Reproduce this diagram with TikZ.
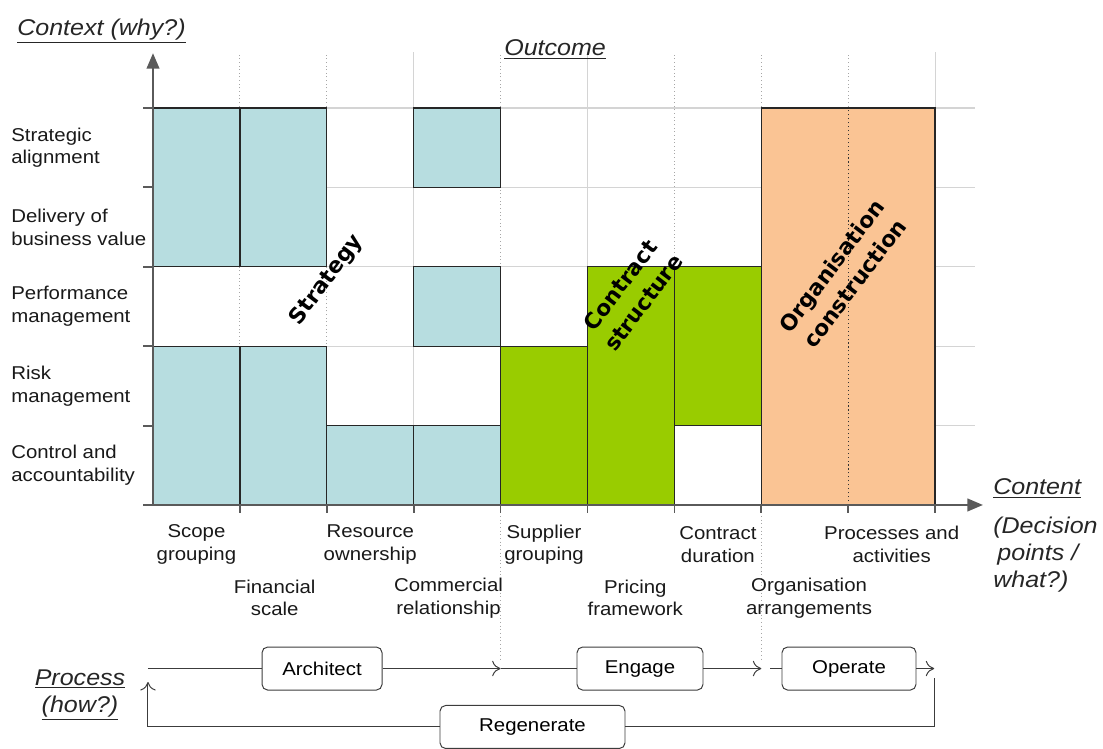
\documentclass[tikz,border=0pt]{standalone}
\usepackage{fontspec}
\setmainfont{Liberation Sans}[FakeStretch=1.1]
\newfontfamily\stagefont{DejaVu Sans}
\usepackage{xcolor}
\usepackage{tikz}
\usetikzlibrary{arrows.meta}

\definecolor{boxblue}{RGB}{183,221,224}
\definecolor{boxgreen}{RGB}{153,204,0}
\definecolor{boxorange}{RGB}{250,196,148}
\definecolor{axisgray}{RGB}{90,90,90}
\definecolor{gridgray}{RGB}{212,212,212}
\definecolor{linegray}{RGB}{60,60,60}

\tikzset{
  lab/.style={font=\fontsize{13.2}{16.3}\selectfont, align=center, inner sep=0pt, text=black!90},
  ylab/.style={lab, align=left, anchor=west},
  head/.style={font=\fontsize{16.2}{19.2}\selectfont\itshape, inner sep=0pt, text=black!85},
  stage/.style={font=\stagefont\bfseries\fontsize{15.5}{20.5}\selectfont, align=center, rotate=53, inner sep=0pt},
  cell/.style={draw=black!85, line width=0.9pt},
  procbox/.style={draw=linegray, fill=white, rectangle, rounded corners=4pt, line width=0.7pt,
    minimum height=1.075cm, font=\fontsize{13.2}{16.3}\selectfont},
  proc/.style={linegray, line width=0.7pt, >={To[length=6pt,width=11pt]}},
  axis/.style={axisgray, line width=1.4pt, >={Triangle[length=11pt,width=9pt]}}
}

\begin{document}
\begin{tikzpicture}[x=2.1725cm, y=1.985cm]
\useasboundingbox (-1.7607,-3.073) rectangle (10.932,6.360);

% grid
\foreach \r in {1,...,5}
  \draw[gridgray, line width=0.8pt] (0,\r) -- (9.46,\r);
\foreach \c in {1,2,4,6,7,8}
  \draw[gray!70, dotted, line width=0.6pt] (\c,0) -- (\c,5.7);
\foreach \c in {3,5,9}
  \draw[gridgray, line width=0.6pt] (\c,0) -- (\c,5.7);
\draw[gray!70, dotted, line width=0.6pt] (4,0) -- (4,-1.95);
\draw[gray!70, dotted, line width=0.6pt] (7,0) -- (7,-1.95);

% cells
\foreach \a/\b/\c/\d in {0/3/1/5, 1/3/2/5, 3/4/4/5, 3/2/4/3, 0/0/1/2, 1/0/2/2, 2/0/3/1, 3/0/4/1}
  \draw[cell, fill=boxblue] (\a,\b) rectangle (\c,\d);
\foreach \a/\b/\c/\d in {4/0/5/2, 5/0/6/3, 6/1/7/3}
  \draw[cell, fill=boxgreen] (\a,\b) rectangle (\c,\d);
\draw[cell, fill=boxorange] (7,0) rectangle (9,5);
\draw[black!80, dotted, line width=0.8pt] (8,0) -- (8,5);

% axes
\draw[axis, ->] (0,0) -- (0,5.69);
\draw[axis, ->] (0,0) -- (9.55,0);
\foreach \r in {0,...,5}
  \draw[axisgray, line width=1.4pt] (-0.115,\r) -- (0,\r);
\foreach \c in {1,...,9}
  \draw[axisgray, line width=1.2pt] (\c,0) -- (\c,-0.1);

% headings
\node[head, anchor=base west] (ctx) at (-1.565,5.907) {\underline{Context (why?)}};
\node[head, anchor=base west] (outc) at (4.039,5.655) {\underline{Outcome}};
\node[head, anchor=base west] (cont) at (9.666,0.126) {\underline{Content}};
\node[head, anchor=north west, align=left] (what) at (9.666,-0.15)
{(Decision\\\hspace*{3pt}points /\\what?)};
\node[head, align=center] (how) at (-0.84,-2.393)
{\underline{Process}\\\underline{(how?)}};

% context rows
\node[ylab] (sa) at (-1.634,4.5) {Strategic\\alignment};
\node[ylab] (db) at (-1.634,3.5) {Delivery of\\business value};
\node[ylab] (pm) at (-1.634,2.5) {Performance\\management};
\node[ylab] (rm) at (-1.634,1.5) {Risk\\management};
\node[ylab] (ca) at (-1.634,0.5) {Control and\\accountability};

% decision points
\node[lab] (sg) at (0.5,-0.5) {Scope\\grouping};
\node[lab] (ro) at (2.5,-0.5) {Resource\\ownership};
\node[lab] (sup) at (4.5,-0.5) {Supplier\\grouping};
\node[lab] (cd) at (6.5,-0.5) {Contract\\duration};
\node[lab] (pa) at (8.5,-0.5) {Processes and\\activities};
\node[lab] (fs) at (1.4,-1.17) {Financial\\scale};
\node[lab] (cr) at (3.4,-1.17) {Commercial\\relationship};
\node[lab] (pf) at (5.55,-1.17) {Pricing\\framework};
\node[lab] (oa) at (7.55,-1.17) {Organisation\\arrangements};

% outcomes
\node[stage] (strat) at (2.0,2.83) {Strategy};
\node[stage] (contr) at (5.51,2.66) {Contract\\structure};
\node[stage] (orgc) at (7.94,2.90) {Organisation\\construction};

% process
\node[procbox, minimum width=3.0cm] (arch) at (1.945,-2.06) {Architect};
\node[procbox, minimum width=3.15cm] (eng) at (5.604,-2.06) {Engage};
\node[procbox, minimum width=3.35cm] (oper) at (8.009,-2.06) {Operate};
\node[procbox, minimum width=4.625cm] (regen) at (4.367,-2.796) {Regenerate};

\coordinate (pin) at (-0.058,-2.06);
\coordinate (a2e) at (4,-2.06);
\coordinate (e2o) at (7,-2.06);
\coordinate (ostub) at (7.1,-2.06);
\coordinate (oend) at (8.99,-2.06);
\coordinate (ldown) at (8.99,-2.18);
\coordinate (lup) at (-0.058,-2.23);

\draw[proc] (pin) -- (arch);
\draw[proc,->] (arch) -- (a2e);
\draw[proc] (a2e) -- (eng);
\draw[proc,->] (eng) -- (e2o);
\draw[proc] (ostub) -- (oper);
\draw[proc,->] (oper) -- (oend);
\draw[proc] (ldown) |- (regen);
\draw[proc,->] (regen) -| (lup);
\end{tikzpicture}
\end{document}
